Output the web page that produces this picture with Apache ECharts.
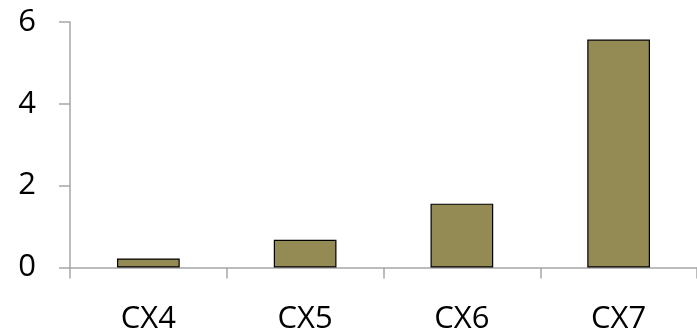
<!DOCTYPE html>
<html>
<head>
<meta charset="utf-8">
<script src="https://cdn.jsdelivr.net/npm/echarts@6/dist/echarts.min.js"></script>
<style>
  html, body { margin: 0; padding: 0; background: #ffffff; }
  #chart { width: 697px; height: 328px; }
</style>
</head>
<body>
<div id="chart"></div>
<script>
// Categories and bar values
const categories = ['CX4', 'CX5', 'CX6', 'CX7'];
const values = [0.22, 0.68, 1.56, 5.57];
// Value axis range and step
const yMin = 0;
const yMax = 6;
const yStep = 2;

const axisGrey = '#a6a6a6';
const fontFamily = '"Open Sans", "Noto Sans", sans-serif';

const chart = echarts.init(document.getElementById('chart'), null, { renderer: 'canvas' });
chart.setOption({
  animation: false,
  backgroundColor: '#ffffff',
  grid: { left: 70, right: 0, top: 22, bottom: 60.5, containLabel: false, outerBoundsMode: 'none' },
  xAxis: {
    type: 'category',
    data: categories,
    axisLine: { show: true, lineStyle: { color: axisGrey, width: 1.5 } },
    axisTick: { show: true, alignWithLabel: false, length: 11, lineStyle: { color: axisGrey, width: 1.5 } },
    axisLabel: { color: '#000000', fontSize: 31, fontFamily: fontFamily, margin: 36 },
    splitLine: { show: false }
  },
  yAxis: {
    type: 'value',
    min: yMin,
    max: yMax,
    interval: yStep,
    axisLine: { show: true, lineStyle: { color: axisGrey, width: 1.5 } },
    axisTick: { show: true, length: 11, lineStyle: { color: axisGrey, width: 1.5 } },
    axisLabel: { color: '#000000', fontSize: 31, fontFamily: fontFamily, margin: 34, padding: [4, 0, 0, 0] },
    splitLine: { show: false }
  },
  series: [{
    type: 'bar',
    data: values,
    barCategoryGap: '60%',
    itemStyle: { color: '#948a54', borderColor: '#000000', borderWidth: 1.2 }
  }]
});
</script>
</body>
</html>
